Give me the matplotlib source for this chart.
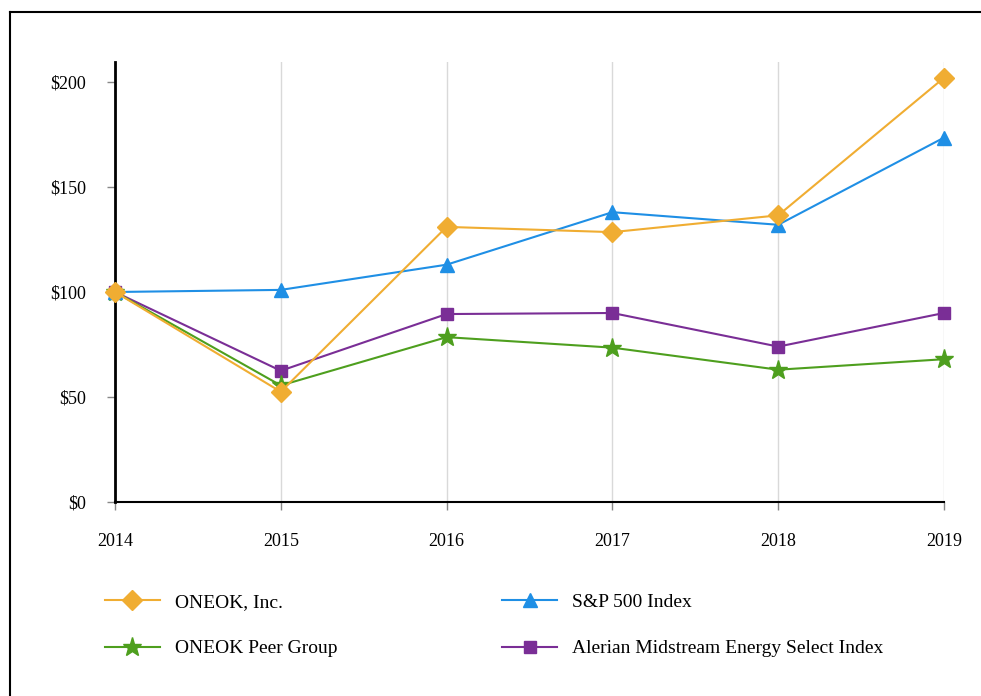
"""Five-year cumulative total return comparison."""

import matplotlib
matplotlib.use("Agg")
from matplotlib import pyplot as plt
from matplotlib.lines import Line2D

years = [2014, 2015, 2016, 2017, 2018, 2019]
oneok = [100, 52.5, 131, 128.5, 136.5, 202]
sp500 = [100, 101, 113, 138, 132, 173.5]
peer_group = [100, 55.5, 78.5, 73.5, 63, 68]
alerian = [100, 62.5, 89.5, 90, 74, 90]
y_ticks = [0, 50, 100, 150, 200]
y_labels = ["$0", "$50", "$100", "$150", "$200"]

plt.rcParams['font.family'] = ['Liberation Serif', 'DejaVu Serif']

fig = plt.figure(figsize=(9.81, 6.96), dpi=100)
ax = fig.add_axes([0.1172, 0.2787, 0.8451, 0.6322])

# Series: (values, label, color, marker, size)
series = [
    (oneok, "ONEOK, Inc.", "#F0AD32", "D", 10),
    (peer_group, "ONEOK Peer Group", "#4E9F1E", "*", 14),
    (sp500, "S&P 500 Index", "#1F8FE5", "^", 10),
    (alerian, "Alerian Midstream Energy Select Index", "#7A2E96", "s", 9),
]
draw_order = [3, 1, 2, 0]  # ONEOK ends up on top
handles = {}
for z, k in enumerate(draw_order):
    vals, label, color, marker, ms = series[k]
    line, = ax.plot(years, vals, color=color, lw=1.5, marker=marker,
                    markersize=ms, label=label, zorder=3 + z * 0.1,
                    clip_on=False)
    handles[k] = line

ax.set_xlim(2014, 2019)
ax.set_ylim(0, 209.5)
ax.set_xticks(years)
ax.set_yticks(y_ticks)
ax.set_yticklabels(y_labels)
ax.tick_params(axis='both', labelsize=13, length=6, color='#888888',
               width=1, direction='out')
ax.tick_params(axis='y', pad=15)
ax.tick_params(axis='x', pad=16)

ax.grid(axis='x', color='#D9D9D9', lw=1)
ax.set_axisbelow(True)
for side in ['top', 'right']:
    ax.spines[side].set_visible(False)
ax.spines['left'].set_linewidth(2)
ax.spines['bottom'].set_linewidth(1.5)

fig.legend([handles[k] for k in range(4)], [s[1] for s in series],
           ncol=2, frameon=False, fontsize=14,
           loc='upper left', bbox_to_anchor=(0.107, 0.148),
           borderpad=0, borderaxespad=0, handlelength=2.83,
           handletextpad=0.75, labelspacing=1.5, columnspacing=8.5)

# Outer frame (top and left edges visible)
fig.add_artist(Line2D([0.0105, 0.0105], [0, 0.983], transform=fig.transFigure,
                      color='black', lw=1.5))
fig.add_artist(Line2D([0.0105, 1.0], [0.983, 0.983], transform=fig.transFigure,
                      color='black', lw=1.5))

fig.savefig("out.png", dpi=100)
